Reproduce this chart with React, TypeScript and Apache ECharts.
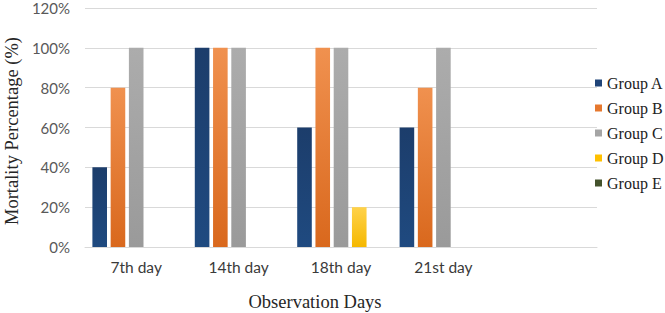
import React, { useEffect, useRef } from "react";
import * as echarts from "echarts";

const categories = ["7th day", "14th day", "18th day", "21st day", ""];
const groupNames = ["Group A", "Group B", "Group C", "Group D", "Group E"];
const groupA = [40, 100, 60, 60];
const groupB = [80, 100, 100, 80];
const groupC = [100, 100, 100, 100];
const groupD = [0, 0, 20, 0];
const groupE = [0, 0, 0, 0];
const seriesValues = [groupA, groupB, groupC, groupD, groupE];
const yTicks = [0, 20, 40, 60, 80, 100, 120];

const grad = (top: string, bottom: string) =>
  new echarts.graphic.LinearGradient(0, 0, 0, 1, [
    { offset: 0, color: top },
    { offset: 1, color: bottom },
  ]);

export default function App() {
  const ref = useRef<HTMLDivElement>(null);
  useEffect(() => {
    if (!ref.current) return;
    const chart = echarts.init(ref.current, undefined, { renderer: "svg" });
    const colors = [
      grad("#1c3d6b", "#1f4a80"),
      grad("#f0914f", "#d9681d"),
      grad("#acacac", "#9a9a9a"),
      grad("#ffd24a", "#f5b800"),
      grad("#4b5a33", "#3f4d29"),
    ];
    const legendColors = ["#1f4478", "#e6782e", "#a5a5a5", "#ffc000", "#44522c"];
    chart.setOption({
      animation: false,
      backgroundColor: "#ffffff",
      grid: { left: 85, right: 68, top: 8, bottom: 66, containLabel: false },
      legend: {
        orient: "vertical",
        left: 595,
        top: 75,
        padding: 0,
        itemWidth: 7,
        itemHeight: 7,
        itemGap: 9,
        icon: "rect",
        data: groupNames.map((n, i) => ({ name: n, itemStyle: { color: legendColors[i] } })),
        textStyle: { fontFamily: "Liberation Serif", fontSize: 16, color: "#222222" },
      },
      xAxis: {
        type: "category",
        data: categories,
        axisTick: { show: false },
        axisLine: { lineStyle: { color: "#d9d9d9" } },
        axisLabel: { fontFamily: "Lato", fontSize: 15.5, color: "#3a3a3a", margin: 12 },
      },
      yAxis: {
        type: "value",
        min: 0,
        max: 120,
        interval: 20,
        axisLine: { show: false },
        axisTick: { show: false },
        splitLine: { lineStyle: { color: "#d9d9d9" } },
        axisLabel: {
          fontFamily: "Lato",
          fontSize: 15,
          color: "#595959",
          margin: 15,
          formatter: (v: number) => (yTicks.includes(v) ? v + "%" : ""),
        },
      },
      graphic: [
        {
          type: "text",
          x: 12,
          y: 131,
          rotation: Math.PI / 2,
          style: {
            text: "Mortality Percentage (%)",
            fontFamily: "Liberation Serif",
            fontSize: 18.5,
            fill: "#262626",
            align: "center",
            verticalAlign: "middle",
          },
        },
        {
          type: "text",
          x: 315,
          y: 302,
          style: {
            text: "Observation Days",
            fontFamily: "Liberation Serif",
            fontSize: 18.5,
            fill: "#262626",
            align: "center",
            verticalAlign: "middle",
          },
        },
      ],
      series: seriesValues.map((vals, i) => ({
        name: groupNames[i],
        type: "bar",
        data: vals,
        barWidth: 14.6,
        barGap: "25%",
        itemStyle: { color: colors[i] },
      })),
    });
    return () => chart.dispose();
  }, []);
  return <div ref={ref} style={{ position: "absolute", left: 0, top: 0, width: 665, height: 313 }} />;
}
